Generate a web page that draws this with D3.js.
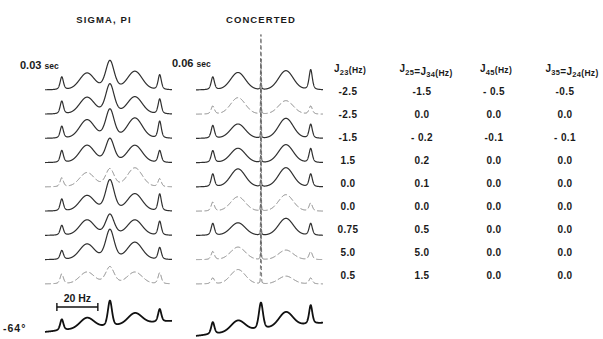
<!DOCTYPE html>
<html>
<head>
<meta charset="utf-8">
<script src="https://cdn.jsdelivr.net/npm/d3@7"></script>
<style>
  html, body { margin: 0; padding: 0; background: #fff; }
  text { font-family: "Liberation Sans", Arial, sans-serif; font-weight: bold; fill: #1a1a1a; }
</style>
</head>
<body>
<svg id="chart"></svg>
<script>
(() => {

  // peak positions (Hz from left edge of each trace) and line shapes
  const peakHz = [8.2, 20.5, 31.7, 43.9, 56.0];
  const shapeMix = [0.5, 0.1, 0.35, 0.1, 0.5];
  const sigmaFwhm = [1.9, 8.5, 5.0, 8.5, 1.9];
  const concertedFwhm = [1.9, 8.5, 0.35, 8.5, 1.9];
  const expFwhm = [1.9, 8.0, 2.4, 8.0, 1.9];

  // peak heights, one row per simulated spectrum (top to bottom)
  const sigmaHeights = [
    [0.43, 0.55, 0.97, 0.61, 0.50],
    [0.43, 0.55, 1.00, 0.57, 0.50],
    [0.40, 0.61, 0.97, 0.67, 0.57],
    [0.40, 0.57, 0.80, 0.57, 0.40],
    [0.30, 0.47, 0.60, 0.63, 0.27],
    [0.40, 0.51, 1.04, 0.57, 0.57],
    [0.33, 0.51, 0.70, 0.51, 0.47],
    [0.30, 0.51, 1.00, 0.57, 0.40],
    [0.33, 0.39, 0.57, 0.39, 0.37]
  ];
  const concertedHeights = [
    [0.43, 0.58, 1.83, 0.64, 0.67],
    [0.27, 0.55, 1.83, 0.45, 0.27],
    [0.43, 0.48, 1.83, 0.67, 0.47],
    [0.40, 0.48, 1.83, 0.60, 0.47],
    [0.43, 0.60, 1.83, 0.64, 0.43],
    [0.30, 0.48, 1.83, 0.55, 0.27],
    [0.40, 0.42, 1.83, 0.57, 0.40],
    [0.27, 0.42, 1.83, 0.32, 0.27],
    [0.20, 0.48, 1.83, 0.26, 0.20]
  ];
  // observed spectrum at -64 degrees
  const sigmaExp = [0.37, 0.35, 0.85, 0.37, 0.43];
  const concertedExp = [0.40, 0.37, 0.88, 0.49, 0.63];

  const sigmaFaint = [4, 8];
  const concertedFaint = [1, 5, 7, 8];

  // coupling constants table
  const j23 = ["-2.5", "-2.5", "-1.5", "1.5", "0.0", "0.0", "0.75", "5.0", "0.5"];
  const j25j34 = ["-1.5", "0.0", "- 0.2", "0.2", "0.1", "0.0", "0.5", "5.0", "1.5"];
  const j45 = ["- 0.5", "0.0", "-0.1", "0.0", "0.0", "0.0", "0.0", "0.0", "0.0"];
  const j35j24 = ["-0.5", "0.0", "- 0.1", "0.0", "0.0", "0.0", "0.0", "0.0", "0.0"];

  const width = 603;
  const height = 339;
  const svg = d3.select('#chart').attr('width', width).attr('height', height);

  const hzMax = 62;
  const xLeft = d3.scaleLinear().domain([0, hzMax]).range([45, 172]);
  const xRight = d3.scaleLinear().domain([0, hzMax]).range([196, 323]);
  const rowY = d3.scalePoint().domain(d3.range(9)).range([90, 284]);
  const amp = d3.scaleLinear().domain([0, 1]).range([0, 30]);

  function pv(d, f, eta) {
    const t = d / f;
    return eta / (1 + 4 * t * t) + (1 - eta) * Math.exp(-4 * Math.LN2 * t * t);
  }

  function spectrum(heights, fwhm) {
    return d3.range(0, hzMax + 0.001, 0.05).map(hz => ({
      hz,
      v: d3.sum(peakHz, (p, i) => heights[i] * pv(hz - p, fwhm[i], shapeMix[i]))
    }));
  }

  function drawRow(x, base, pts, style) {
    const line = d3.line().x(d => x(d.hz)).y(d => base(d.hz) - amp(d.v));
    svg.append('path')
      .datum(pts)
      .attr('d', line)
      .attr('fill', 'none')
      .attr('stroke', style.stroke)
      .attr('stroke-width', style.width)
      .attr('stroke-dasharray', style.dash)
      .attr('stroke-linejoin', 'round');
  }

  const solid = { stroke: '#303030', width: 1.2, dash: null };
  const faint = { stroke: '#808080', width: 1, dash: '6,2.5' };
  const spikeStyle = { stroke: '#666', width: 0.9, dash: '4,2.5' };

  // SIGMA, PI
  sigmaHeights.forEach((h, i) => {
    const b = () => rowY(i);
    drawRow(xLeft, b, spectrum(h, sigmaFwhm), sigmaFaint.includes(i) ? faint : solid);
  });

  // CONCERTED: central spike drawn dashed
  const c = peakHz[2];
  concertedHeights.forEach((h, i) => {
    const b = () => rowY(i);
    const pts = spectrum(h, concertedFwhm);
    const st = concertedFaint.includes(i) ? faint : solid;
    drawRow(xRight, b, pts.filter(d => d.hz <= c - 0.6), st);
    drawRow(xRight, b, pts.filter(d => d.hz >= c - 0.65 && d.hz <= c + 0.65), spikeStyle);
    drawRow(xRight, b, pts.filter(d => d.hz >= c + 0.6), st);
  });

  // observed spectra with tilted baseline
  const heavy = { stroke: '#111', width: 1.8, dash: null };
  const baseL = d3.scaleLinear().domain([0, hzMax]).range([332, 321]);
  const baseR = d3.scaleLinear().domain([0, hzMax]).range([336, 323]);
  drawRow(xLeft, baseL, spectrum(sigmaExp, expFwhm), heavy);
  drawRow(xRight, baseR, spectrum(concertedExp, expFwhm), heavy);

  // titles
  svg.append('text').attr('x', 104).attr('y', 23).attr('text-anchor', 'middle')
    .attr('font-size', 9.5).attr('letter-spacing', 1.1).text('SIGMA, PI');
  svg.append('text').attr('x', 261).attr('y', 23).attr('text-anchor', 'middle')
    .attr('font-size', 9.5).attr('letter-spacing', 1.1).text('CONCERTED');

  function timeLabel(x, y, val) {
    const t = svg.append('text').attr('x', x).attr('y', y).attr('font-size', 11);
    t.append('tspan').text(val);
    t.append('tspan').attr('font-size', 8.5).attr('dx', 3).text('sec');
  }
  timeLabel(20, 69, '0.03');
  timeLabel(172, 67, '0.06');

  // 20 Hz bar
  const barY = 307;
  svg.append('line').attr('x1', xLeft(5.8)).attr('x2', xLeft(25.8))
    .attr('y1', barY).attr('y2', barY).attr('stroke', '#111').attr('stroke-width', 1.6);
  [5.8, 25.8].forEach(hz => {
    svg.append('line').attr('x1', xLeft(hz)).attr('x2', xLeft(hz))
      .attr('y1', barY - 4).attr('y2', barY + 4).attr('stroke', '#111').attr('stroke-width', 1.4);
  });
  svg.append('text').attr('x', xLeft(15.8)).attr('y', 302).attr('text-anchor', 'middle')
    .attr('font-size', 10.5).text('20 Hz');
  svg.append('text').attr('x', 3).attr('y', 332).attr('font-size', 10.5)
    .attr('letter-spacing', 1).text('-64°');

  // table headers
  const headers = [
    { x: 350, parts: [['J', '23']] },
    { x: 426, parts: [['J', '25'], ['=J', '34']] },
    { x: 496, parts: [['J', '45']] },
    { x: 572, parts: [['J', '35'], ['=J', '24']] }
  ];
  headers.forEach(h => {
    const t = svg.append('text').attr('x', h.x).attr('y', 72)
      .attr('text-anchor', 'middle').attr('font-size', 10).attr('letter-spacing', 0.3);
    h.parts.forEach(p => {
      t.append('tspan').text(p[0]);
      t.append('tspan').attr('font-size', 7.5).attr('dy', 2.5).text(p[1]);
      t.append('tspan').attr('dy', -2.5).text('');
    });
    t.append('tspan').attr('font-size', 8.5).attr('dy', -1.5).text('(Hz)');
  });

  const cols = [
    { x: 348, vals: j23 },
    { x: 422, vals: j25j34 },
    { x: 494, vals: j45 },
    { x: 565, vals: j35j24 }
  ];
  const tableY = d3.scalePoint().domain(d3.range(9)).range([95, 279]);
  cols.forEach(col => {
    svg.selectAll(null)
      .data(col.vals)
      .enter()
      .append('text')
      .attr('x', col.x)
      .attr('y', (d, i) => tableY(i))
      .attr('text-anchor', 'middle')
      .attr('font-size', 10)
      .attr('letter-spacing', 0.4)
      .text(d => d);
  });

})();
</script>
</body>
</html>
